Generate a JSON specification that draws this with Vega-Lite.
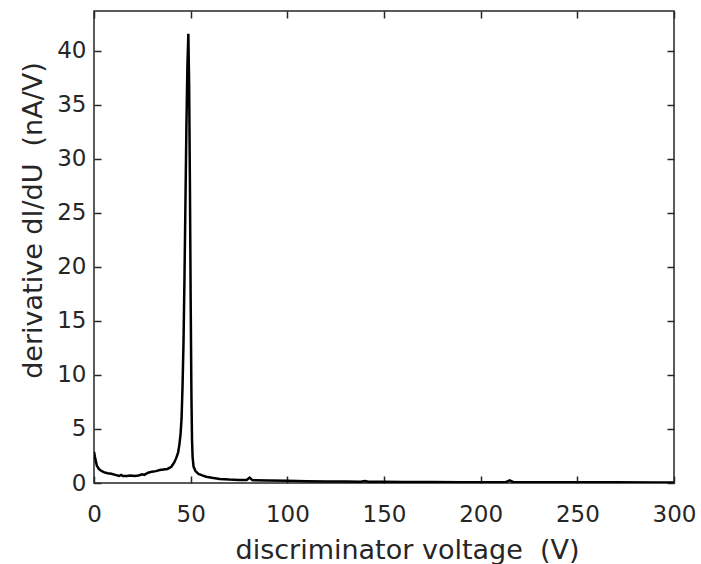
{
  "$schema": "https://vega.github.io/schema/vega-lite/v6.json",
  "width": 580,
  "height": 472,
  "autosize": {"type": "none"},
  "padding": {"left": 94, "top": 11, "right": 27, "bottom": 81},
  "background": "white",
  "config": {
    "font": "DejaVu Sans",
    "view": {"stroke": "#262626", "strokeWidth": 1.5},
    "axis": {
      "grid": false,
      "domain": false,
      "tickColor": "#262626",
      "tickSize": -7,
      "tickWidth": 1.5,
      "labelColor": "#262626",
      "labelFontSize": 23,
      "labelFlush": false,
      "labelOverlap": false,
      "labelBound": false,
      "titleColor": "#262626",
      "titleFontSize": 27,
      "titleFontWeight": "normal"
    }
  },
  "data": {"values": [
    {"v": 0, "d": 2.9}, {"v": 0.5, "d": 2.4}, {"v": 1, "d": 2.0}, {"v": 1.5, "d": 1.6},
    {"v": 2.5, "d": 1.3}, {"v": 3.5, "d": 1.15}, {"v": 5, "d": 1.0}, {"v": 7, "d": 0.9},
    {"v": 9, "d": 0.85}, {"v": 11, "d": 0.75}, {"v": 13, "d": 0.65}, {"v": 14, "d": 0.75},
    {"v": 15, "d": 0.65}, {"v": 17, "d": 0.65}, {"v": 19, "d": 0.7}, {"v": 21, "d": 0.65},
    {"v": 23, "d": 0.7}, {"v": 25, "d": 0.8}, {"v": 26, "d": 0.75}, {"v": 28, "d": 0.95},
    {"v": 30, "d": 1.05}, {"v": 32, "d": 1.1}, {"v": 34, "d": 1.2}, {"v": 36, "d": 1.25},
    {"v": 38, "d": 1.3}, {"v": 40, "d": 1.5}, {"v": 41.5, "d": 1.9}, {"v": 42.5, "d": 2.3},
    {"v": 43.5, "d": 2.8}, {"v": 44.2, "d": 3.6}, {"v": 44.8, "d": 4.6}, {"v": 45.3, "d": 6},
    {"v": 45.8, "d": 9}, {"v": 46.3, "d": 13}, {"v": 46.8, "d": 19}, {"v": 47.3, "d": 26},
    {"v": 47.8, "d": 33}, {"v": 48.3, "d": 38.5}, {"v": 48.8, "d": 41.6}, {"v": 49.2, "d": 37},
    {"v": 49.6, "d": 28}, {"v": 50.0, "d": 17}, {"v": 50.4, "d": 8}, {"v": 50.7, "d": 4},
    {"v": 51.0, "d": 2.4}, {"v": 51.5, "d": 1.5}, {"v": 52.5, "d": 1.1}, {"v": 54, "d": 0.85},
    {"v": 56, "d": 0.7}, {"v": 58, "d": 0.58}, {"v": 61, "d": 0.48}, {"v": 65, "d": 0.38},
    {"v": 70, "d": 0.32}, {"v": 75, "d": 0.28}, {"v": 79, "d": 0.28}, {"v": 80.5, "d": 0.5},
    {"v": 82, "d": 0.25}, {"v": 90, "d": 0.22}, {"v": 100, "d": 0.2}, {"v": 110, "d": 0.17},
    {"v": 120, "d": 0.15}, {"v": 130, "d": 0.14}, {"v": 138, "d": 0.12}, {"v": 140, "d": 0.18},
    {"v": 142, "d": 0.12}, {"v": 150, "d": 0.12}, {"v": 160, "d": 0.1}, {"v": 175, "d": 0.1},
    {"v": 190, "d": 0.08}, {"v": 205, "d": 0.08}, {"v": 213, "d": 0.08}, {"v": 215, "d": 0.25},
    {"v": 217, "d": 0.08}, {"v": 230, "d": 0.07}, {"v": 250, "d": 0.06}, {"v": 270, "d": 0.06},
    {"v": 290, "d": 0.05}, {"v": 300, "d": 0.05}
  ]},
  "layer": [
    {
      "mark": {"type": "line", "color": "black", "strokeWidth": 2.5, "clip": true},
      "encoding": {
        "x": {"field": "v", "type": "quantitative",
              "scale": {"domain": [0, 300], "nice": false, "zero": false},
              "axis": {"values": [0, 50, 100, 150, 200, 250, 300], "labelPadding": 27,
                       "title": "discriminator voltage\u00a0 (V)",
                       "titleX": 313, "titleY": 75, "titleBaseline": "alphabetic", "titleAlign": "center"}},
        "y": {"field": "d", "type": "quantitative",
              "scale": {"domain": [0, 43.7], "nice": false},
              "axis": {"values": [0, 5, 10, 15, 20, 25, 30, 35, 40], "labelPadding": 15,
                       "title": "derivative dI/dU\u00a0 (nA/V)",
                       "titleX": -53, "titleY": 209, "titleBaseline": "alphabetic", "titleAlign": "center", "titleAngle": -90}}
      }
    },
    {
      "mark": {"type": "line", "opacity": 0},
      "encoding": {
        "x": {"field": "v", "type": "quantitative",
              "scale": {"domain": [0, 300], "nice": false, "zero": false},
              "axis": {"orient": "top", "values": [0, 50, 100, 150, 200, 250, 300], "labels": false, "title": null}},
        "y": {"field": "d", "type": "quantitative",
              "scale": {"domain": [0, 43.7], "nice": false},
              "axis": {"orient": "right", "values": [0, 5, 10, 15, 20, 25, 30, 35, 40], "labels": false, "title": null}}
      }
    }
  ],
  "resolve": {"axis": {"x": "independent", "y": "independent"}}
}
